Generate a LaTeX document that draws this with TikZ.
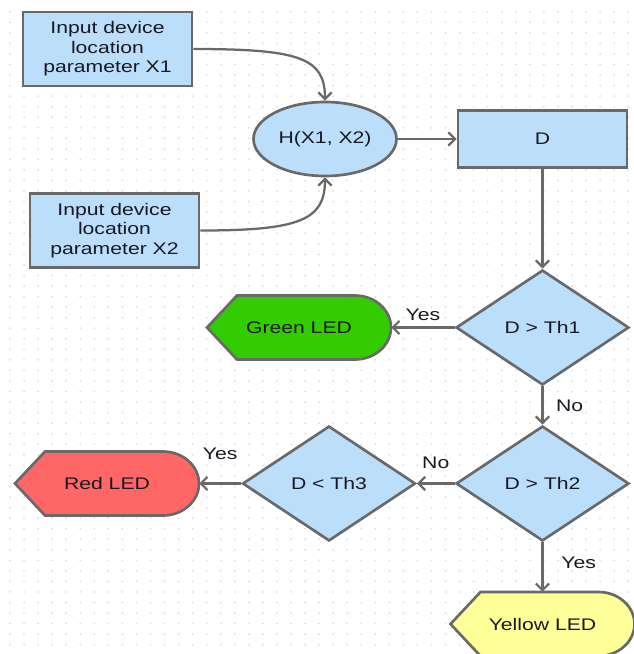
\documentclass[tikz,border=0pt]{standalone}
\usepackage{fontspec}
\setmainfont{Liberation Sans}[FakeStretch=1.26]
\usetikzlibrary{shapes.geometric, arrows.meta}

\definecolor{edgegray}{RGB}{105,105,105}
\definecolor{boxblue}{RGB}{187,222,251}
\definecolor{ledgreen}{RGB}{51,204,0}
\definecolor{ledred}{RGB}{255,102,102}
\definecolor{ledyellow}{RGB}{255,255,153}
\definecolor{dotgray}{RGB}{220,220,220}
\definecolor{inkblack}{RGB}{25,25,35}

\tikzset{
  every node/.style={font=\fontsize{12.6pt}{14.6pt}\selectfont, text=inkblack},
  outline/.style={draw=edgegray, line width=2pt},
  inbox/.style={outline, rectangle, fill=boxblue, minimum width=126.75pt, minimum height=55.5pt, align=center, inner sep=0pt},
  hashnode/.style={outline, ellipse, fill=boxblue, minimum width=107.25pt, minimum height=55.5pt, inner sep=0pt},
  decision/.style={outline, diamond, fill=boxblue, minimum width=129.75pt, minimum height=86.25pt, inner sep=0pt},
  led/.style={rectangle, minimum width=138pt, minimum height=48pt, inner sep=0pt},
  flow/.style={draw=edgegray, line width=1.7pt, -{Straight Barb[length=5pt, width=10pt]}}
}

% LED outline: left tip x, centre y, colour
\newcommand{\ledshape}[3]{%
  \draw [outline, fill=#3] (#1, #2) -- ++(30, -32) -- ++(118, 0)
    arc [start angle=-90, end angle=90, x radius=36, y radius=32]
    -- ++(-118, 0) -- cycle;}

\begin{document}
\begin{tikzpicture}[x=0.75pt, y=-0.75pt]
\useasboundingbox (0, 0) rectangle (633, 654);

% GRID DOTS
\foreach \i in {0,...,44}
  \foreach \j in {0,...,60}
    \fill [dotgray] (10+\i*14.05, 11.7+\j*10.55) circle [radius=1];

% INPUT BOXES
\node [inbox] (x1) at (107.5, 49) {Input device\\location\\parameter X1};
\node [inbox] (x2) at (114.5, 230.5) {Input device\\location\\parameter X2};

% H AND D
\node [hashnode] (h) at (325, 139) {H(X1, X2)};
\node [inbox, minimum height=42.75pt] (d) at (542.5, 139) {D};

% DECISIONS
\node [decision] (th1) at (542.5, 327.5) {D > Th1};
\node [decision] (th2) at (542.5, 483.5) {D > Th2};
\node [decision] (th3) at (329, 483.5) {D < Th3};

% LEDS
\ledshape{207}{327.5}{ledgreen}
\node [led] (green) at (299, 327.5) {Green LED};
\ledshape{15}{483.5}{ledred}
\node [led] (red) at (107, 483.5) {Red LED};
\ledshape{450.5}{624}{ledyellow}
\node [led] (yellow) at (542.5, 624) {Yellow LED};

% CONNECTORS
\draw [flow] (x1.east) to [out=0, in=90, out distance=80pt, in distance=32pt] (h.north);
\draw [flow] (x2.east) to [out=0, in=-90, out distance=75pt, in distance=32pt] (h.south);
\draw [flow] (h.east) -- (d.west);
\draw [flow] (d.south) -- (th1.north);
\draw [flow] (th1.west) -- node [above, yshift=1pt] {Yes} (green.east);
\draw [flow] (th1.south) -- node [right, xshift=6pt] {No} (th2.north);
\draw [flow] (th2.west) -- node [above, yshift=7pt] {No} (th3.east);
\draw [flow] (th3.west) -- node [above, yshift=14pt] {Yes} (red.east);
\draw [flow] (th2.south) -- node [right, xshift=10pt, yshift=3pt] {Yes} (yellow.north);

\end{tikzpicture}
\end{document}
